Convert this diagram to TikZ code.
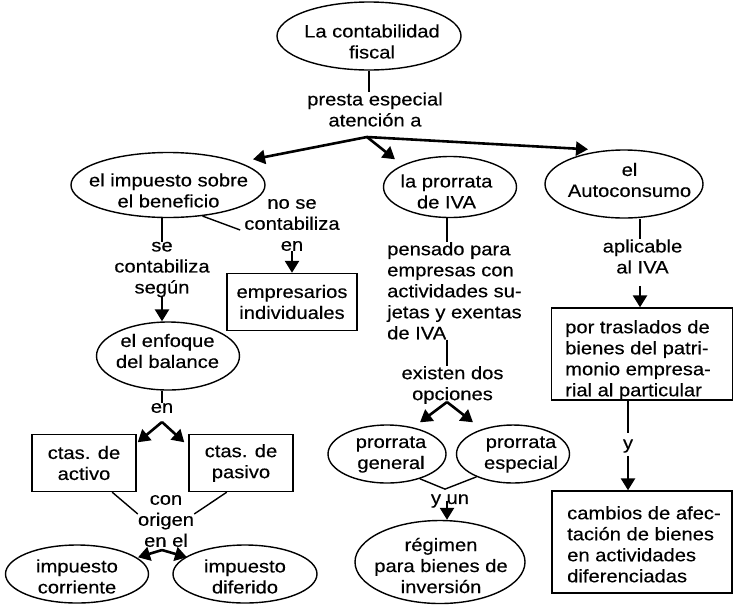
\documentclass[tikz,border=0pt]{standalone}
\usepackage{fontspec}
\setmainfont{Liberation Sans}[FakeStretch=1.12,FakeBold=0.3]
\usetikzlibrary{arrows.meta,shapes.geometric,calc}
\begin{document}
\begin{tikzpicture}[x=1pt,y=-1pt,
  every node/.style={font=\fontsize{18}{21}\selectfont, inner sep=0pt},
  ell/.style={draw, ellipse, line width=1.4pt, inner sep=0pt},
  box/.style={draw, rectangle, line width=1.4pt, align=center},
  txt/.style={align=center},
  ltxt/.style={align=left, anchor=north west},
  ln/.style={line width=1.4pt},
  arr/.style={line width=2.6pt, -{Triangle[length=12pt,width=14pt]}}
]
\useasboundingbox (0,0) rectangle (735,614);

% top
\node[ell, minimum width=184pt, minimum height=68pt] (root) at (369,36) {};
\node[txt] (roott) at (372,41.5) {La contabilidad\\fiscal};
\node[txt] (presta) at (375,109.5) {presta especial\\atención a};
\draw[ln] (root.south) -- (root.south |- presta.north);
\coordinate (b1) at (367,137);

% level 1
\node[ell, minimum width=194pt, minimum height=65pt] (ib) at (168,185) {};
\node[txt] (ibt) at (168.5,190.5) {el impuesto sobre\\el beneficio};
\node[ell, minimum width=133pt, minimum height=61pt] (pr) at (450,187) {};
\node[txt] (prt) at (446.5,191.5) {la prorrata\\de IVA};
\node[ell, minimum width=158pt, minimum height=68pt] (au) at (624,184) {};
\node[txt] (aut) at (629.5,180) {el\\Autoconsumo};

\draw[arr] (b1) -- ([shift={(85,7.5)}]ib.north);
\draw[arr] (b1) -- ([shift={(-55,3.5)}]pr.north);
\draw[arr] (b1) -- ([shift={(-36,0)}]au.north);

% left column
\node[txt] (secont) at (162,269.5) {se\\contabiliza\\según};
\draw[ln] (ib.south -| secont.north) -- (secont.north);
\node[txt] (nose) at (292,225) {no se\\contabiliza\\en};
\draw[ln] (ib.-42) -- ([shift={(-4,5)}]nose.west);
\node[box, minimum width=130pt, minimum height=57pt] (emp) at (292,302) {empresarios\\individuales};
\draw[arr] (nose.south) -- (emp.north);

\node[ell, minimum width=143pt, minimum height=68pt] (enf) at (168,356) {};
\node[txt] (enft) at (167.5,351) {el enfoque\\del balance};
\draw[arr] (secont.south) -- (secont.south |- enf.north);
\node[txt] (en) at (162,408) {en};
\draw[ln] (enf.south -| en.north) -- (en.north);
\coordinate (b2) at (162,422);
\node[box, minimum width=104pt, minimum height=57pt] (act) at (84,463) {ctas. de\\activo};
\node[box, minimum width=104pt, minimum height=57pt] (pas) at (241,463) {ctas. de\\pasivo};
\draw[arr] (b2) -- ([shift={(1,8.5)}]act.north east);
\draw[arr] (b2) -- ([shift={(-4,8.5)}]pas.north west);

\coordinate (b3) at (162,550);
\node[ell, minimum width=143pt, minimum height=58pt] (cor) at (77,574) {};
\node[txt] (cort) at (77,576.5) {impuesto\\corriente};
\node[ell, minimum width=144pt, minimum height=58pt] (dif) at (245,574) {};
\node[txt] (dift) at (245,576.5) {impuesto\\diferido};
\draw[arr] (b3) -- ([shift={(61,13)}]cor.north);
\draw[arr] (b3) -- ([shift={(-58,13)}]dif.north);
\node[txt] (con) at (166,521) {con\\origen\\en el};
\draw[ln] (act.-46) -- (con.166);
\draw[ln] (pas.-116) -- (con.14);

% middle column
\node[ltxt] (pens) at (387,242) {pensado para\\empresas con\\actividades su-\\jetas y exentas\\de IVA};
\draw[ln] ([xshift=-3pt]pr.south) -- ([xshift=-3pt]pr.south |- pens.north);
\node[txt] (exist) at (452.5,385) {existen dos\\opciones};
\draw[ln] ([xshift=-3pt]pr.south |- pens.south) -- ([xshift=-3pt]pr.south |- exist.north);
\coordinate (b4) at (447,402);
\node[ell, minimum width=118pt, minimum height=58pt] (gen) at (387,454) {};
\node[txt] (gent) at (391,454.5) {prorrata\\general};
\node[ell, minimum width=113pt, minimum height=58pt] (esp) at (513,454) {};
\node[txt] (espt) at (521,454.5) {prorrata\\especial};
\draw[arr] (b4) -- ([shift={(33,-2)}]gen.north);
\draw[arr] (b4) -- ([shift={(-40,-2)}]esp.north);
\node[txt] (yun) at (450,501) {y un};
\draw[ln] (gen.-37) -- ([shift={(-5,-5)}]yun.north) -- (esp.-148);
\node[ell, minimum width=170pt, minimum height=83pt] (reg) at (440,562) {};
\node[txt] (regt) at (441,565.5) {régimen\\para bienes de\\inversión};
\draw[arr] ([xshift=-3pt]yun.center) -- ([xshift=-3pt]yun.center |- reg.north);

% right column
\node[txt] (aplic) at (642.5,256.5) {aplicable\\al IVA};
\draw[ln] ([xshift=-2.5pt]aplic.north |- au.south) -- ([xshift=-2.5pt]aplic.north);
\node[box, minimum width=181pt, minimum height=92pt] (tras) at (642,354) {};
\node[ltxt] (trast) at (565,320) {por traslados de\\bienes del patri-\\monio empresa-\\rial al particular};
\draw[arr, shorten <=12pt] ([xshift=-2.5pt]aplic.south) -- ([xshift=-2.5pt]aplic.south |- tras.north);
\node[txt] (yy) at (628,446) {y};
\draw[ln, shorten >=6pt] (yy.north |- tras.south) -- (yy.north);
\node[box, minimum width=180pt, minimum height=102pt] (cam) at (642,542) {};
\node[ltxt] (camt) at (567,506) {cambios de afec-\\tación de bienes\\en actividades\\diferenciadas};
\draw[arr, shorten <=3pt] (yy.south) -- (yy.south |- cam.north);
\end{tikzpicture}
\end{document}
